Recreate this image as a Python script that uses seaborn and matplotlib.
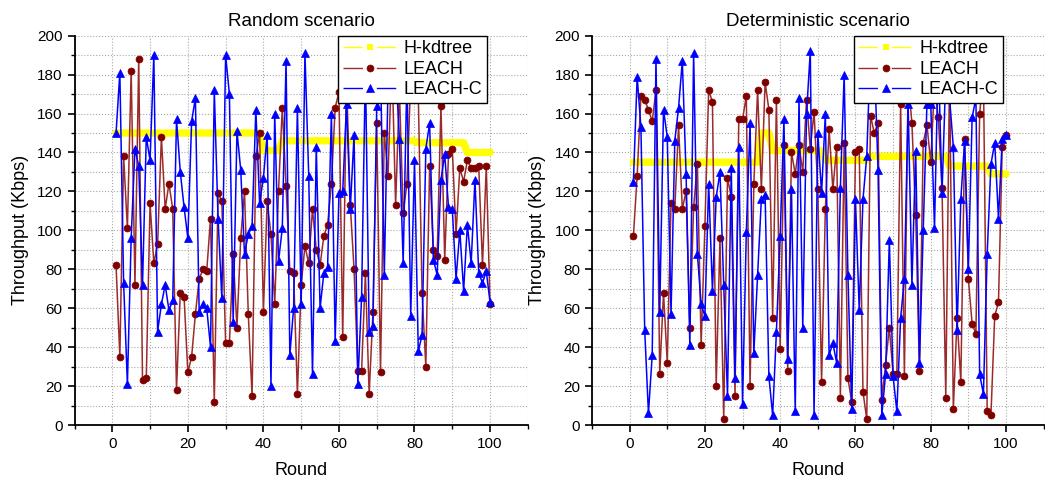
import matplotlib
matplotlib.use("Agg")
import matplotlib.pyplot as plt
import seaborn as sns
import pandas as pd
from matplotlib.ticker import MultipleLocator

rounds = list(range(1, 101))

# ---------------- Random scenario ----------------
rnd_kdtree = [150, 150, 150, 150, 150, 150, 150, 150, 150, 150,
              150, 150, 150, 150, 150, 150, 150, 150, 150, 150,
              150, 150, 150, 150, 150, 150, 150, 150, 150, 150,
              150, 150, 150, 150, 150, 150, 150, 150, 150, 141,
              141, 141, 141, 141, 146, 146, 146, 146, 146, 146,
              146, 146, 146, 146, 146, 146, 146, 146, 146, 146,
              146, 146, 146, 146, 146, 146, 146, 146, 146, 146,
              146, 146, 146, 146, 146, 146, 146, 146, 146, 146,
              145, 145, 145, 145, 145, 145, 145, 145, 145, 145,
              145, 145, 145, 140, 140, 140, 140, 140, 140, 140]
rnd_leach = [82, 35, 138, 101, 182, 72, 188, 23, 24, 114,
             83, 93, 148, 111, 124, 111, 18, 68, 66, 27,
             35, 57, 75, 80, 79, 106, 12, 119, 115, 42,
             42, 88, 50, 96, 120, 57, 15, 138, 150, 58,
             115, 98, 62, 120, 163, 123, 79, 78, 16, 72,
             92, 83, 111, 90, 82, 97, 103, 124, 163, 171,
             45, 178, 113, 80, 28, 28, 78, 16, 58, 155,
             27, 150, 128, 190, 113, 172, 109, 124, 178, 185,
             170, 68, 30, 133, 90, 87, 164, 85, 139, 142,
             98, 132, 125, 136, 132, 132, 133, 82, 133, 62]
rnd_leachc = [150, 181, 73, 21, 96, 142, 133, 72, 148, 136,
              190, 48, 62, 72, 59, 64, 157, 130, 112, 96,
              156, 168, 58, 62, 60, 40, 172, 106, 65, 190,
              170, 53, 151, 131, 88, 98, 102, 162, 114, 127,
              149, 20, 160, 84, 101, 187, 36, 60, 163, 62,
              191, 128, 26, 143, 60, 78, 81, 160, 43, 119,
              120, 165, 111, 149, 21, 66, 185, 48, 51, 164,
              185, 77, 175, 190, 185, 147, 83, 180, 56, 136,
              38, 46, 142, 155, 85, 77, 126, 139, 112, 111,
              75, 100, 69, 103, 83, 126, 78, 73, 79, 63]

# ---------------- Deterministic scenario ----------------
det_kdtree = [135, 135, 135, 135, 135, 135, 135, 135, 135, 135,
              135, 135, 135, 135, 135, 135, 135, 135, 135, 135,
              135, 135, 135, 135, 135, 135, 135, 135, 135, 135,
              135, 135, 135, 135, 150, 150, 150, 141, 141, 141,
              141, 141, 141, 141, 141, 141, 141, 141, 141, 141,
              141, 136, 136, 136, 136, 136, 136, 136, 136, 136,
              136, 136, 136, 138, 138, 138, 138, 138, 138, 138,
              138, 138, 138, 138, 138, 138, 138, 138, 138, 138,
              138, 138, 138, 138, 133, 133, 133, 133, 133, 133,
              133, 133, 133, 133, 133, 129, 129, 129, 129, 129]
det_leach = [97, 128, 169, 167, 162, 156, 172, 26, 68, 32,
             114, 111, 154, 111, 120, 50, 112, 134, 41, 102,
             172, 166, 20, 96, 3, 127, 117, 15, 157, 157,
             169, 20, 124, 172, 121, 176, 162, 55, 167, 39,
             144, 28, 140, 129, 144, 130, 167, 142, 161, 121,
             22, 111, 152, 121, 143, 14, 145, 24, 12, 140,
             142, 17, 3, 159, 150, 155, 13, 31, 50, 26,
             26, 165, 25, 178, 155, 108, 28, 145, 154, 135,
             175, 158, 122, 14, 182, 8, 55, 22, 147, 75,
             52, 47, 160, 180, 7, 5, 56, 63, 143, 149]
det_leachc = [125, 179, 153, 49, 6, 36, 188, 58, 162, 148,
              57, 146, 163, 187, 129, 41, 191, 88, 62, 56,
              124, 69, 117, 130, 72, 15, 132, 24, 143, 11,
              99, 155, 37, 77, 116, 118, 25, 5, 48, 97,
              157, 34, 121, 7, 168, 50, 160, 192, 5, 150,
              119, 160, 36, 42, 32, 122, 180, 77, 8, 116,
              59, 116, 138, 193, 190, 131, 5, 26, 95, 25,
              7, 55, 75, 165, 72, 141, 32, 100, 165, 165,
              101, 190, 119, 180, 168, 143, 49, 116, 146, 80,
              158, 168, 26, 16, 88, 134, 145, 106, 147, 149]

titles = ["Random scenario", "Deterministic scenario"]
series_names = ["H-kdtree", "LEACH", "LEACH-C"]

sns.set_style("ticks")
plt.rcParams["font.family"] = ["Liberation Sans", "DejaVu Sans"]
plt.rcParams["text.color"] = "black"
plt.rcParams["axes.labelcolor"] = "black"
plt.rcParams["xtick.color"] = "black"
plt.rcParams["ytick.color"] = "black"

fig = plt.figure(figsize=(10.45, 4.87), dpi=100)
ax1 = fig.add_axes([0.0713, 0.1273, 0.4338, 0.7994])
ax2 = fig.add_axes([0.5665, 0.1273, 0.4322, 0.7994])


def draw(ax, kd, le, lc, title):
    df = pd.DataFrame({"Round": rounds, series_names[0]: kd,
                       series_names[1]: le, series_names[2]: lc})
    sns.lineplot(data=df, x="Round", y=series_names[0], ax=ax,
                 color="#FFFF00", linewidth=5.3, marker="s", markersize=4,
                 markeredgecolor="#FFFF00", markeredgewidth=0,
                 label=series_names[0], zorder=2)
    sns.lineplot(data=df, x="Round", y=series_names[1], ax=ax,
                 color="#9b2b2b", linewidth=1.1, marker="o", markersize=5,
                 markerfacecolor="#800000", markeredgecolor="#800000",
                 markeredgewidth=0.5, label=series_names[1], zorder=3)
    sns.lineplot(data=df, x="Round", y=series_names[2], ax=ax,
                 color="#0000FF", linewidth=1.1, marker="^", markersize=5.5,
                 markerfacecolor="#0000FF", markeredgecolor="#0000FF",
                 markeredgewidth=0.5, label=series_names[2], zorder=4)

    ax.set_xlim(-10, 110)
    ax.set_ylim(0, 200)
    ax.xaxis.set_major_locator(MultipleLocator(20))
    ax.xaxis.set_minor_locator(MultipleLocator(10))
    ax.yaxis.set_major_locator(MultipleLocator(20))
    ax.yaxis.set_minor_locator(MultipleLocator(10))
    ax.set_xticks([0, 20, 40, 60, 80, 100])
    ax.grid(which="both", linestyle=":", color="#a8a8a8", linewidth=0.8)
    ax.set_axisbelow(True)
    for s in ["top", "right"]:
        ax.spines[s].set_visible(False)
    for s in ["left", "bottom"]:
        ax.spines[s].set_linewidth(1.3)
        ax.spines[s].set_color("black")
    ax.tick_params(which="major", direction="out", length=5, width=1.2,
                   labelsize=11, colors="black")
    ax.tick_params(which="minor", direction="out", length=3, width=1.0,
                   colors="black")
    ax.set_xlabel("Round", fontsize=13, labelpad=8, color="black")
    ax.set_ylabel("Throughput (Kbps)", fontsize=13, labelpad=6, color="black")
    ax.set_title(title, fontsize=13.5, pad=7, color="black")

    leg = ax.legend(loc="upper right", bbox_to_anchor=(0.91, 1.0),
                    frameon=True, fancybox=False, edgecolor="black",
                    framealpha=1, fontsize=13, handlelength=3.0,
                    borderpad=0.25, labelspacing=0.2, handletextpad=0.4,
                    borderaxespad=0)
    leg.get_frame().set_linewidth(1.0)
    for h in leg.get_lines():
        h.set_linewidth(1.0)
        h.set_linestyle((0, (14, 10)))
    for t in leg.get_texts():
        t.set_color("black")
    leg.set_zorder(10)


draw(ax1, rnd_kdtree, rnd_leach, rnd_leachc, titles[0])
draw(ax2, det_kdtree, det_leach, det_leachc, titles[1])

fig.savefig("out.png", dpi=100)
